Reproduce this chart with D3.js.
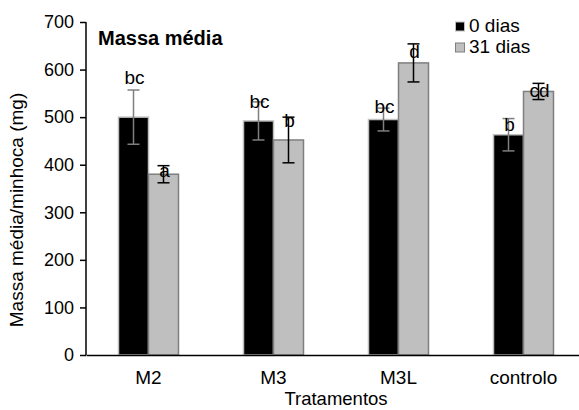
<!DOCTYPE html>
<html lang="pt">
<head>
<meta charset="UTF-8">
<style>
    body { margin: 0; background: #fff; }
    text { font-family: "Liberation Sans", Arial, sans-serif; fill: #000; }
</style>
<script src="https://d3js.org/d3.v7.min.js"></script>
</head>
<body>
<div id="chart"></div>
<script>
    var categories = ["M2", "M3", "M3L", "controlo"];
    var seriesNames = ["0 dias", "31 dias"];
    var values0 = [500, 492, 495, 463];
    var values31 = [380, 452, 614, 554];
    var err0 = [57, 40, 24, 34];
    var err31 = [18, 48, 40, 17];
    var letters0 = ["bc", "bc", "bc", "b"];
    var letters31 = ["a", "b", "d", "cd"];
    // height (mg) where each letter sits, as placed in the original
    var letterAt0 = [570, 519, 509, 471];
    var letterAt31 = [374, 479, 624, 542];
    var yTicks = [0, 100, 200, 300, 400, 500, 600, 700];

    var W = 579, H = 410;
    var margin = { top: 22, right: -7, bottom: 55, left: 86 };
    var font = "'Liberation Sans', Arial, sans-serif";

    var svg = d3.select("#chart").append("svg")
        .attr("width", W).attr("height", H);

    var x = d3.scaleBand().domain(categories)
        .range([margin.left, W - margin.right]);
    var y = d3.scaleLinear().domain([0, 700])
        .range([H - margin.bottom, margin.top]);

    var barW = 30;
    var fills = ["#000000", "#bfbfbf"];
    var strokes = ["#bfbfbf", "#7f7f7f"];
    var errColors = ["#7f7f7f", "#000000"];

    var rows = categories.map(function (c, i) {
        return [
            { cat: c, s: 0, v: values0[i], e: err0[i], l: letters0[i], ly: letterAt0[i] },
            { cat: c, s: 1, v: values31[i], e: err31[i], l: letters31[i], ly: letterAt31[i] }
        ];
    }).flat();

    function cx(d) {
        return x(d.cat) + x.bandwidth() / 2 + (d.s === 0 ? -barW / 2 : barW / 2);
    }

    // bars
    svg.selectAll("rect.bar").data(rows).enter().append("rect")
        .attr("class", "bar")
        .attr("x", function (d) { return cx(d) - barW / 2; })
        .attr("y", function (d) { return y(d.v); })
        .attr("width", barW)
        .attr("height", function (d) { return y(0) - y(d.v); })
        .attr("fill", function (d) { return fills[d.s]; })
        .attr("stroke", function (d) { return strokes[d.s]; })
        .attr("stroke-width", 1.5);

    // error bars
    var eb = svg.selectAll("g.err").data(rows).enter().append("g")
        .attr("stroke", function (d) { return errColors[d.s]; })
        .attr("stroke-width", 1.5);
    eb.append("line")
        .attr("x1", cx).attr("x2", cx)
        .attr("y1", function (d) { return y(d.v + d.e); })
        .attr("y2", function (d) { return y(d.v - d.e); });
    [1, -1].forEach(function (sign) {
        eb.append("line")
            .attr("x1", function (d) { return cx(d) - 6; })
            .attr("x2", function (d) { return cx(d) + 6; })
            .attr("y1", function (d) { return y(d.v + sign * d.e); })
            .attr("y2", function (d) { return y(d.v + sign * d.e); });
    });

    // significance letters
    svg.selectAll("text.letter").data(rows).enter().append("text")
        .attr("class", "letter")
        .attr("x", function (d) { return cx(d) + 1; })
        .attr("y", function (d) { return y(d.ly); })
        .attr("text-anchor", "middle")
        .attr("font-size", 19)
        .text(function (d) { return d.l; });

    // y axis
    var yAxis = svg.append("g")
        .attr("transform", "translate(" + margin.left + ",0)")
        .call(d3.axisLeft(y).tickValues(yTicks).tickSize(6).tickPadding(6));
    yAxis.selectAll("line, path").attr("stroke", "#000").attr("stroke-width", 1.5);
    yAxis.select(".domain").attr("d", "M0," + y(700) + "V" + y(0));
    yAxis.selectAll("text").attr("font-size", 18).style("font-family", font);

    // x axis
    var xAxis = svg.append("g")
        .attr("transform", "translate(0," + y(0) + ")")
        .call(d3.axisBottom(x).tickSize(0).tickPadding(15.5));
    xAxis.select(".domain").attr("stroke", "#000").attr("stroke-width", 1.5);
    xAxis.selectAll("text").attr("font-size", 19).style("font-family", font);

    // axis titles
    svg.append("text")
        .attr("x", (margin.left + W - margin.right) / 2)
        .attr("y", 405)
        .attr("text-anchor", "middle")
        .attr("font-size", 18.5)
        .text("Tratamentos");
    svg.append("text")
        .attr("transform", "translate(23,210) rotate(-90)")
        .attr("text-anchor", "middle")
        .attr("font-size", 19)
        .text("Massa média/minhoca (mg)");

    // title
    svg.append("text")
        .attr("x", 98).attr("y", 44.5)
        .attr("font-size", 20)
        .attr("font-weight", "bold")
        .text("Massa média");

    // legend
    var leg = svg.selectAll("g.leg").data(seriesNames).enter().append("g")
        .attr("transform", function (d, i) { return "translate(455," + (32 + i * 21) + ")"; });
    leg.append("rect")
        .attr("x", 0.5).attr("y", -10)
        .attr("width", 9).attr("height", 9)
        .attr("fill", function (d, i) { return fills[i]; })
        .attr("stroke", function (d, i) { return strokes[i]; });
    leg.append("text")
        .attr("x", 14).attr("y", 0)
        .attr("font-size", 19)
        .text(function (d) { return d; });
</script>
</body>
</html>
